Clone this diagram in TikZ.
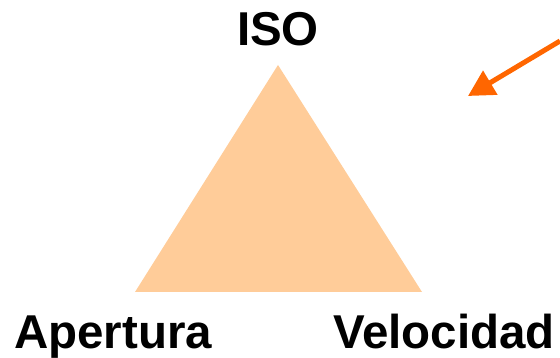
\documentclass[tikz,border=0pt]{standalone}
\usepackage{fontspec}
\setmainfont{Liberation Sans}
\usetikzlibrary{arrows.meta}
\definecolor{peach}{HTML}{FFCC99}
\definecolor{pointer}{HTML}{FF6600}
\begin{document}
\begin{tikzpicture}[x=1pt,y=1pt,
  label text/.style={font=\fontsize{47.5}{47.5}\selectfont\bfseries, inner sep=0pt, anchor=base},
  pointer arrow/.style={draw=pointer, line width=5pt, -{Triangle[length=26pt,width=27pt]}}]
  \useasboundingbox (0,0) rectangle (560,358);
  % exposure triangle
  \coordinate (top) at (278,293);
  \coordinate (left) at (135,66);
  \coordinate (right) at (422,66);
  \fill[peach] (top) -- (left) -- (right) -- cycle;
  % corner labels
  \node[label text] (iso) at (278,312) {ISO};
  \node[label text] (apertura) at (113,9) {Apertura};
  \node[label text] (velocidad) at (444,9) {Velocidad};
  % pointer
  \coordinate (from) at (560,317);
  \coordinate (to) at (468,262);
  \draw[pointer arrow] (from) -- (to);
\end{tikzpicture}
\end{document}
